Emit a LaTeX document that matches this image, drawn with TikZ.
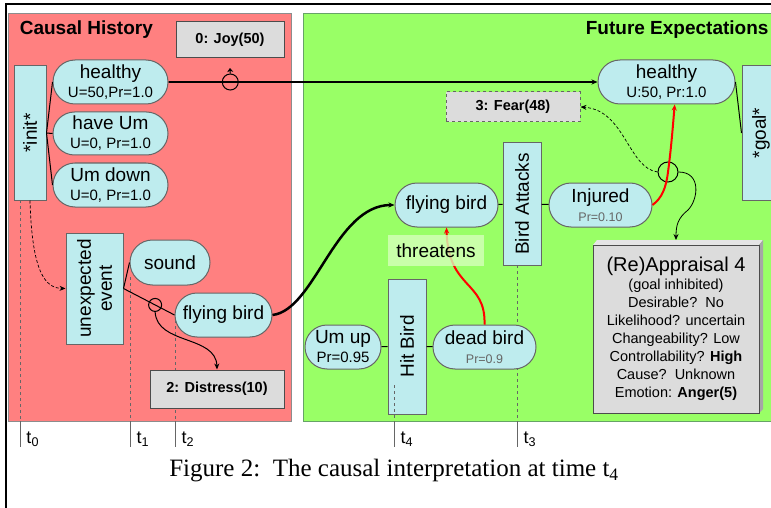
\documentclass[tikz,border=0pt]{standalone}
\usepackage{fontspec}
\setmainfont{Liberation Sans}
\newfontfamily\capfont{Liberation Serif}
\usetikzlibrary{shapes.misc,arrows.meta}

\definecolor{histred}{RGB}{255,128,128}
\definecolor{futgreen}{RGB}{153,255,102}
\definecolor{nodecyan}{RGB}{190,236,238}
\definecolor{boxgray}{RGB}{220,220,220}
\definecolor{threatgreen}{RGB}{214,255,186}

\newcommand{\subl}[1]{{\fontsize{15}{17}\selectfont #1}}
\newcommand{\subp}[1]{{\fontsize{12.5}{14}\selectfont\color{black!60}#1}}

\begin{document}
\begin{tikzpicture}[x=1pt, y=1pt, line width=1pt, >={Stealth[length=6pt, width=5pt]},
	state/.style = {draw=black!60, fill=nodecyan, rounded rectangle, align=center, inner sep=0pt, font=\fontsize{19}{19}\selectfont},
	act/.style = {draw=black!60, fill=nodecyan, rotate=90, align=center, inner sep=0pt, font=\fontsize{19}{21}\selectfont},
	emo/.style = {draw=black!70, fill=boxgray, inner sep=0pt, font=\bfseries\fontsize{14.5}{16}\selectfont},
	ring/.style = {draw, circle, inner sep=0pt},
	tick/.style = {anchor=west, inner sep=1pt, font=\fontsize{18}{18}\selectfont},
	timeline/.style = {draw=black!60, line width=0.8pt},
	title/.style = {font=\bfseries\fontsize{19}{19}\selectfont}]

	\useasboundingbox (0,0) rectangle (771,-508);

	\fill[histred] (8,-14) rectangle (291,-421);
	\draw[black!45] (8,-14) rectangle (291,-421);
	\fill[futgreen] (303,-14) rectangle (780,-421);
	\draw[green!40!black!60] (303,-14) rectangle (780,-421);
	\draw[line width=2pt] (6,-510) -- (6,-4) -- (775,-4);

	\node[title, anchor=west] (hist) at (16,-30) {Causal History};
	\node[title, anchor=east, inner sep=1pt] (fut) at (770,-30) {Future Expectations};

	\draw[timeline, dashed] (20,-200) -- (20,-421);
	\draw[timeline, dashed] (130,-277) -- (130,-421);
	\draw[timeline, dashed] (175,-320) -- (175,-421);
	\draw[timeline, dashed] (517,-265) -- (517,-421);
	\draw[timeline] (20,-421) -- (20,-447);
	\draw[timeline] (130,-421) -- (130,-447);
	\draw[timeline] (175,-421) -- (175,-447);
	\draw[timeline] (394,-421) -- (394,-447);
	\draw[timeline] (517,-421) -- (517,-447);
	\node[tick] (t0) at (25,-439) {t\textsubscript{0}};
	\node[tick] (t1) at (135,-439) {t\textsubscript{1}};
	\node[tick] (t2) at (180,-439) {t\textsubscript{2}};
	\node[tick] (t4) at (399,-439) {t\textsubscript{4}};
	\node[tick] (t3) at (522,-439) {t\textsubscript{3}};

	\node[emo, minimum width=108, minimum height=36] (joy) at (230,-40) {0: Joy(50)};
	\node[act, minimum width=134, minimum height=32] (init) at (30,-133) {*init*};
	\node[state, minimum width=115, minimum height=44] (healthyA) at (110.5,-82) {healthy\\\subl{U=50,Pr=1.0}};
	\node[state, minimum width=115, minimum height=43] (haveUm) at (110.5,-133.5) {have Um\\\subl{U=0, Pr=1.0}};
	\node[state, minimum width=115, minimum height=44] (umDown) at (110.5,-185) {Um down\\\subl{U=0, Pr=1.0}};
	\draw (init.south) -- (healthyA.west);
	\draw (init.south) -- (haveUm.west);
	\draw (init.south) -- (umDown.west);

	\node[act, minimum width=111, minimum height=57] (unexp) at (94.5,-288.5) {unexpected\\event};
	\node[state, minimum width=80, minimum height=45] (sound) at (170,-262.5) {sound};
	\node[state, minimum width=97, minimum height=44] (flyA) at (223.5,-315) {flying bird};
	\node[emo, minimum width=134, minimum height=38] (distress) at (217,-389) {2: Distress(10)};
	\draw[densely dashed, line width=0.7pt, ->] (init.west) .. controls (32,-272) and (45,-288) .. (unexp.north);
	\draw (unexp.south) -- (sound.west);
	\draw (unexp.south) -- node[ring, pos=0.62, minimum size=13] (ringA) {} (flyA.west);
	\draw[->] (ringA.south) .. controls (157,-345) and (216,-335) .. (distress.north);

	\node[state, minimum width=137, minimum height=44] (healthyB) at (666.5,-82) {healthy\\\subl{U:50, Pr:1.0}};
	\node[act, minimum width=134, minimum height=38] (goal) at (761,-133) {*goal*};
	\draw (healthyB.east) -- (goal.north);
	\draw[line width=1.6pt, ->] (healthyA) -- node[ring, pos=0.144, minimum size=16, line width=1pt] (ringJoy) {} (healthyB);
	\coordinate (joyTip) at (230,-68);
	\draw[-{Stealth[length=4pt, width=6pt]}] (ringJoy.north) -- (joyTip);
	\node[emo, dashed, draw=black!60, minimum width=134, minimum height=30] (fear) at (513,-107) {3: Fear(48)};

	\node[state, minimum width=103, minimum height=44] (flyB) at (446.5,-205) {flying bird};
	\node[act, minimum width=122, minimum height=38] (attacks) at (522,-204) {Bird Attacks};
	\node[state, minimum width=103, minimum height=44] (injured) at (600.5,-205) {Injured\\\subp{Pr=0.10}};
	\draw (flyB) -- (attacks);
	\draw (attacks) -- (injured);
	\node[ring, minimum size=20] (ringB) at (668,-172) {};
	\draw[red, line width=2pt, ->] (injured.east) .. controls (662,-198) and (666,-188) .. (ringB.center) .. controls (671,-150) and (673,-125) .. (healthyB.-70);
	\draw[densely dashed, line width=0.7pt, ->] (ringB.west) .. controls (628,-168) and (625,-110) .. (fear.east);

	\fill[black!10] (593,-245) -- (597,-240) -- (763,-240) -- (759,-245) -- cycle;
	\fill[black!35] (759,-245) -- (763,-240) -- (763,-409) -- (759,-413) -- cycle;
	\node[draw=black!70, fill=boxgray, minimum width=166, minimum height=168, align=center, inner sep=0pt, font=\fontsize{14.5}{18}\selectfont] (appraisal) at (676,-329) {{\fontsize{20}{22}\selectfont (Re)Appraisal 4}\\(goal inhibited)\\Desirable?~~No\\Likelihood? uncertain\\Changeability? Low\\Controllability? \textbf{High}\\Cause?~~Unknown\\Emotion: \textbf{Anger(5)}};
	\draw[line width=0.8pt, ->] (ringB.east) .. controls (702,-172) and (698,-200) .. (688,-210) .. controls (678,-218) and (676,-225) .. (676,-240);

	\node[act, minimum width=135, minimum height=38] (hitBird) at (407,-346.5) {Hit Bird};
	\node[state, minimum width=76, minimum height=44] (umUp) at (343,-347) {Um up\\\subl{Pr=0.95}};
	\node[state, minimum width=103, minimum height=44] (deadBird) at (484.5,-347) {dead bird\\\subp{Pr=0.9}};
	\draw (umUp) -- (hitBird);
	\draw (hitBird) -- (deadBird);
	\draw[timeline, dashed] (394,-385) -- (394,-421);

	\draw[red, line width=2pt, ->] (deadBird.north) .. controls (486,-280) and (448,-290) .. (flyB.south);
	\node[fill=threatgreen, fill opacity=0.8, text opacity=1, minimum width=96, minimum height=31, inner sep=0pt, font=\fontsize{19}{19}\selectfont] (threat) at (436,-250.5) {threatens};

	\draw[line width=2.5pt, ->] (flyA.east) .. controls (315,-310) and (335,-205) .. (flyB.west);

	\node[font=\capfont\fontsize{25}{27}\selectfont] (caption) at (394,-471) {Figure 2:\ \ The causal interpretation at time t\textsubscript{4}};
\end{tikzpicture}
\end{document}
